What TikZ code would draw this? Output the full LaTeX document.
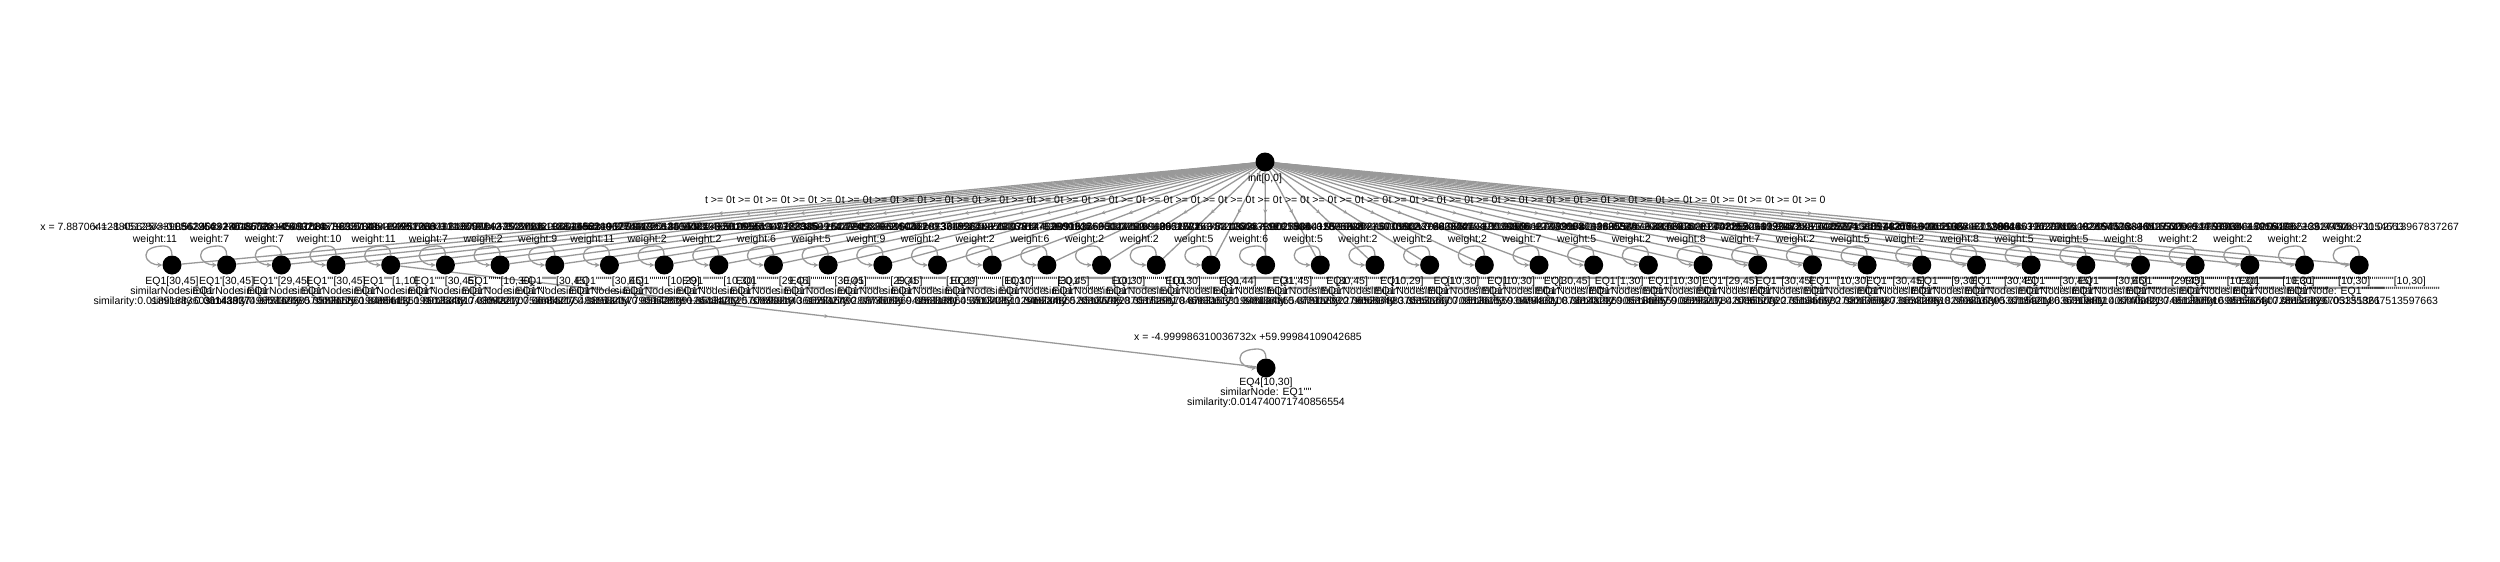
\documentclass[tikz,border=0pt]{standalone}
\usetikzlibrary{arrows.meta,decorations.markings,backgrounds,calc}
\font\lblfont="Liberation Sans" at 10.5pt
\def\myprimes#1{\ifnum#1>0 '\expandafter\myprimes\expandafter{\the\numexpr#1-1\relax}\fi}
\definecolor{edgegray}{HTML}{999999}
\tikzset{
  vert/.style={circle,fill=black,draw=none,minimum size=19pt,inner sep=0pt},
  txt/.style={font=\lblfont,inner sep=0pt,text=black},
  ml/.style={txt,align=center,anchor=north,font={\lblfont\baselineskip=10pt}},
  edge/.style={draw,color=edgegray,line width=1.3pt},
  midarrow/.style={postaction={decorate},decoration={markings,mark=at position 0.5 with {\arrow{Stealth[length=4pt,width=4pt]}}}},
  loopedge/.style={edge,-{Stealth[length=5pt,width=5pt]}},
}
\begin{document}
\begin{tikzpicture}[x=1pt,y=-1pt]
\useasboundingbox (0,0) rectangle (2500,562);
\node[vert] (root) at (1265,162) {};
\node[txt,anchor=base] (rootlbl) at (1265,181.5) {init[0,0]};
\node[vert] (eq4) at (1266,368) {};
\node[ml] (eq4lbl) at (1266,378) {EQ4[10,30]\\similarNode: EQ1\myprimes{4}\\similarity:0.014740071740856554};
\node[txt,anchor=base] (eq4eq) at (1248,340.5) {x = -4.999986310036732x +59.99984109042685};
\foreach \i/\w/\lo/\hi/\ca/\cb/\sv in {
0/11/30/45/7.887064128805625/11.563402918645773/018918836031143937,
1/7/30/45/-1.4512873390562254/47.86023145097031/06143377498573266,
2/7/29/45/0.8841956327018553/26.01584736920341/07316938570098125,
3/10/30/45/-2.0061739985402216/63.51229084751638/05836556190384451,
4/11/1/10/-4.983214579260148/9.951206731188497/04856135191025338,
5/7/30/45/1.2357096412880561/31.67710943522486/09133461743092211,
6/2/10/30/-0.9987263102485571/29.87142036519862/03848270753684217,
7/9/30/45/0.6130998427346602/33.24581906275418/06455276481158204,
8/11/30/45/-3.8724506198833465/125.9472018556321/08913457790962838,
9/2/10/29/-1.0046523190774312/30.12937465019837/05142509126784703,
10/2/10/30/-0.9998372562104471/29.99551840276345/05134262570835919,
11/6/29/45/2.4419087356610936/4.187330126445912/07890244361553278,
12/5/30/45/-0.5528146903322815/52.72093861450317/06281549287735096,
13/9/29/45/1.7762835091429943/12.60452983718564/08746626942538881,
14/2/10/29/-1.0012457896344201/30.06219874336152/06611396457007083,
15/2/10/30/-0.9994021873650327/29.97614402851937/05134251129180062,
16/6/30/45/0.3349261085540776/36.90812566043219/04823486520307795,
17/2/10/30/-1.0003817752909146/30.01143908621577/05136922870371581,
18/2/10/30/-0.9991536608124493/29.98206675312644/05152917846930617,
19/5/30/44/-2.3307519843661822/81.43826739001854/07631533199818604,
20/6/31/45/1.0952781634420873/18.25549031876203/04812485547791233,
21/5/30/45/-0.7410063399281648/55.19027846713302/07315892278068349,
22/2/10/29/-1.0027836412096538/30.09981204476521/06529788370351367,
23/2/10/30/-0.9996148275036612/29.98847310529916/05136600703526153,
24/2/10/30/-1.0001903376628447/30.00536187442083/05136755938794321,
25/7/30/45/0.5863201947512209/27.33108944120576/04948310873820192,
26/5/1/30/-3.1198840627356014/94.02671158834461/06148226905314867,
27/2/10/30/-0.9989974102685339/29.96630812497152/05136855902395231,
28/8/29/45/1.3805544729066312/9.742215096033187/06293178420861276,
29/7/30/45/-0.4472918061374095/49.81639077425214/07356092270184467,
30/2/10/30/-1.0008853261793472/30.02671330948215/05136598270013659,
31/5/30/45/0.9120473381590527/15.48277160362049/08367548731541896,
32/2/9/30/-1.0039271548814207/30.11587460139928/06332961827961374,
33/8/30/45/2.0174356684912035/3.596614072138853/09281639530184214,
34/5/30/45/-0.6655023971128644/57.70491182864536/07159218636319461,
35/5/30/45/0.7318845539620711/22.94173306518327/07308811400075421,
36/8/29/45/-1.8823615092457726/84.65309821753098/07400823748129054,
37/2/10/30/-0.9993518840127745/29.98034617256471/05135601698356244,
38/2/10/30/-1.0016620954478312/30.04896513627794/05136620728851339,
39/2/10/30/-0.9997762046915083/29.99308871154663/05135826703351361,
40/2/10/30/-1.0005198226314452/30.02713967837267/051358267513597663}{
  \pgfmathsetmacro\px{172+54.68*\i}
  \pgfmathsetmacro\mx{(1265+\px)/2}
  \pgfmathtruncatemacro\sn{max(\i-1,0)}
  \node[vert] (n\i) at (\px,265) {};
  \node[ml] (l\i) at (\px,277) {EQ1\myprimes{\i}[\lo,\hi]\\similarNode: EQ1\myprimes{\sn}\\similarity:0.\sv};
  \node[txt,anchor=base] (w\i) at (\px-17,242.5) {weight:\w};
  \node[txt,anchor=base] (e\i) at (\px-17,230) {x = \ca x +\cb};
  \node[txt,anchor=base] (t\i) at (\mx,203.5) {t >= 0};
}
\begin{scope}[on background layer]
\foreach \i in {0,...,40}{
  \draw[edge,midarrow] (root) -- (n\i);
  \draw[loopedge] (n\i.north) .. controls ($(n\i)+(0,-16)$) and ($(n\i)+(-3,-19)$) .. ($(n\i)+(-8,-19)$)
    .. controls ($(n\i)+(-18,-19)$) and ($(n\i)+(-26,-16)$) .. ($(n\i)+(-26,-10)$)
    .. controls ($(n\i)+(-26,-3)$) and ($(n\i)+(-18,0)$) .. (n\i.west);
}
\draw[edge,midarrow] (n4) -- (eq4);
\draw[loopedge] (eq4.north) .. controls ($(eq4)+(0,-16)$) and ($(eq4)+(-3,-19)$) .. ($(eq4)+(-8,-19)$)
    .. controls ($(eq4)+(-18,-19)$) and ($(eq4)+(-26,-16)$) .. ($(eq4)+(-26,-10)$)
    .. controls ($(eq4)+(-26,-3)$) and ($(eq4)+(-18,0)$) .. (eq4.west);
\end{scope}
\end{tikzpicture}
\end{document}
